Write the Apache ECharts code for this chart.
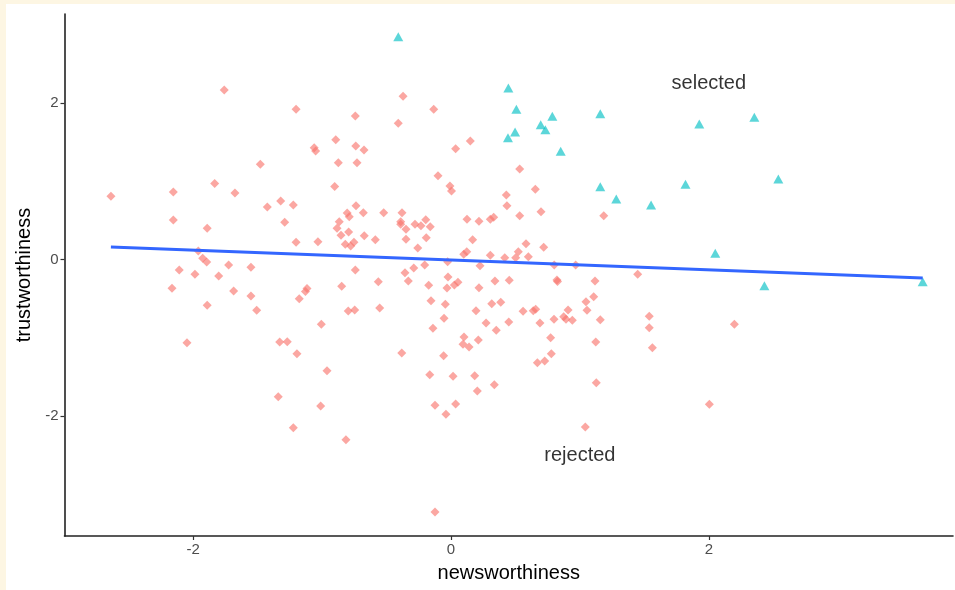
<!DOCTYPE html>
<html>
<head>
<meta charset="utf-8">
<script src="https://cdn.jsdelivr.net/npm/echarts@6/dist/echarts.min.js"></script>
<style>
html, body { margin: 0; padding: 0; background: #fdf6e3; }
#chart { position: absolute; left: 6px; top: 4px; width: 949px; height: 586px; background: #fff; }
</style>
</head>
<body>
<div id="chart"></div>
<script>
// rejected stories (red diamonds)
const rejectedX = [
  -1.759, -1.202, -0.742, -0.894, -1.061, -1.050, -0.739, -1.479, -0.874, -0.729,
  -1.833, -0.902, -2.154, -1.676, -2.638, -1.425, -1.321, -1.223, -0.737, -0.805,
  -0.789, -2.154, -1.891, -1.290, -0.867, -0.884, -0.794, -0.853, -1.202, -1.032,
  -0.820, -0.778, -0.753, -1.960, -1.926, -1.895, -2.108, -1.986, -1.802, -1.725,
  -1.552, -0.742, -2.164, -1.686, -1.552, -1.117, -1.129, -1.177, -0.848, -1.891,
  -1.507, -0.797, -0.747, -1.006, -2.048, -1.329, -1.270, -1.195, -0.962, -1.340,
  -1.011, -1.223, -0.815, -0.372, -0.134, -0.409, -0.675, 0.150, 0.036, 0.533,
  -0.101, -0.008, 0.004, 0.654, -0.680, -0.522, -0.380, 0.429, 0.434, 0.698,
  0.533, 1.185, -0.390, -0.390, -0.349, -0.279, -0.233, -0.196, -0.161, 0.124,
  0.217, 0.305, 0.331, -0.673, -0.587, -0.349, -0.192, 0.168, -0.258, 0.582,
  0.719, 0.522, 0.122, 0.099, 0.305, 0.417, 0.502, 0.600, -0.026, -0.204,
  -0.289, -0.357, 0.225, 0.801, 0.967, 1.448, -0.564, -0.331, -0.023, -0.173,
  -0.031, 0.026, 0.054, 0.217, 0.341, 0.452, 0.822, 0.826, 1.117, 1.107,
  1.047, 1.055, 1.158, -0.155, -0.044, 0.316, 0.386, -0.553, 0.194, 0.559,
  0.638, 0.657, 0.908, 0.874, 0.892, 0.941, 0.799, -0.054, 0.272, 0.448,
  0.690, -0.140, 0.351, 1.538, 1.538, 0.773, 0.101, 0.093, 0.140, 0.212,
  1.123, 1.562, -0.382, -0.057, 0.778, 0.670, 0.727, -0.165, 0.016, 0.184,
  0.336, 0.204, -0.124, 0.036, -0.039, 1.127, 1.042, -0.124, 2.198, 2.004
];
const rejectedY = [
  2.163, 1.917, 1.831, 1.529, 1.427, 1.384, 1.448, 1.215, 1.235, 1.235,
  0.969, 0.931, 0.861, 0.848, 0.806, 0.669, 0.746, 0.695, 0.686, 0.593,
  0.545, 0.503, 0.397, 0.474, 0.481, 0.397, 0.350, 0.308, 0.218, 0.226,
  0.193, 0.171, 0.218, 0.107, 0.014, -0.033, -0.135, -0.190, -0.212, -0.072,
  -0.101, -0.135, -0.369, -0.404, -0.467, -0.372, -0.410, -0.502, -0.344, -0.586,
  -0.650, -0.659, -0.646, -0.829, -1.064, -1.055, -1.051, -1.204, -1.421, -1.753,
  -1.872, -2.149, -2.303, 2.083, 1.917, 1.738, 1.397, 1.512, 1.414, 1.155,
  1.069, 0.937, 0.874, 0.895, 0.596, 0.596, 0.596, 0.822, 0.686, 0.609,
  0.558, 0.558, 0.481, 0.448, 0.384, 0.448, 0.430, 0.507, 0.418, 0.512,
  0.487, 0.512, 0.538, 0.303, 0.252, 0.257, 0.277, 0.252, 0.146, 0.201,
  0.155, 0.098, 0.098, 0.065, 0.052, 0.022, 0.022, 0.034, -0.029, -0.072,
  -0.110, -0.170, -0.080, -0.072, -0.072, -0.190, -0.285, -0.276, -0.225, -0.331,
  -0.365, -0.327, -0.292, -0.361, -0.276, -0.267, -0.263, -0.282, -0.276, -0.476,
  -0.540, -0.650, -0.770, -0.527, -0.573, -0.566, -0.548, -0.621, -0.655, -0.663,
  -0.655, -0.637, -0.646, -0.732, -0.765, -0.778, -0.765, -0.752, -0.812, -0.799,
  -0.812, -0.880, -0.905, -0.727, -0.872, -1.000, -0.991, -1.084, -1.119, -1.029,
  -1.055, -1.128, -1.195, -1.230, -1.204, -1.319, -1.298, -1.472, -1.493, -1.485,
  -1.600, -1.681, -1.863, -1.847, -1.978, -1.575, -2.140, -3.226, -0.829, -1.851
];
// selected stories (cyan triangles)
const selectedX = [
  -0.409, 0.445, 0.507, 0.786, 1.158, 0.696, 0.732, 0.497, 0.442, 0.851,
  1.158, 1.282, 1.552, 1.819, 1.926, 2.353, 2.539, 2.050, 2.431, 3.659
];
const selectedY = [
  2.844, 2.189, 1.917, 1.828, 1.861, 1.720, 1.656, 1.627, 1.554, 1.381,
  0.928, 0.771, 0.695, 0.959, 1.729, 1.815, 1.027, 0.078, -0.336, -0.285
];
// fitted line ends
const fitX = [-2.638, 3.659];
const fitY = [0.158, -0.238];
// text labels
const noteText = ['selected', 'rejected'];
const noteX = [2.0, 1.0];
const noteY = [2.25, -2.5];
const tickValues = [-2, 0, 2];

const zip = (xs, ys) => xs.map((x, i) => [x, ys[i]]);
const font = '"Liberation Sans", Arial, sans-serif';

const chart = echarts.init(document.getElementById('chart'));
chart.setOption({
  animation: false,
  grid: { left: 58.5, top: 10, right: 2, bottom: 54, containLabel: false, outerBoundsMode: 'none' },
  xAxis: {
    type: 'value', min: -2.998, max: 3.894,
    name: 'newsworthiness', nameLocation: 'middle', nameGap: 27,
    nameTextStyle: { color: '#000', fontSize: 20, fontFamily: font },
    axisLine: { onZero: false, lineStyle: { color: '#222', width: 1.6 } },
    axisTick: { customValues: tickValues, length: 4, lineStyle: { color: '#333', width: 1.2 } },
    axisLabel: { customValues: tickValues, color: '#4d4d4d', fontSize: 15, margin: 6, fontFamily: font },
    splitLine: { show: false }
  },
  yAxis: {
    type: 'value', min: -3.533, max: 3.134,
    name: 'trustworthiness', nameLocation: 'middle', nameGap: 30,
    nameTextStyle: { color: '#000', fontSize: 20, fontFamily: font },
    axisLine: { show: true, onZero: false, lineStyle: { color: '#222', width: 1.6 } },
    axisTick: { show: true, customValues: tickValues, length: 4, lineStyle: { color: '#333', width: 1.2 } },
    axisLabel: { customValues: tickValues, color: '#4d4d4d', fontSize: 15, margin: 6, fontFamily: font },
    splitLine: { show: false }
  },
  series: [
    {
      type: 'scatter', data: zip(rejectedX, rejectedY),
      symbol: 'diamond', symbolSize: 9,
      itemStyle: { color: 'rgba(248,118,109,0.8)' }
    },
    {
      type: 'scatter', data: zip(selectedX, selectedY),
      symbol: 'triangle', symbolSize: [10, 9],
      itemStyle: { color: 'rgba(0,191,196,0.8)' }
    },
    {
      type: 'line', data: zip(fitX, fitY), symbol: 'none', z: 5,
      lineStyle: { color: '#3366ff', width: 3 }
    },
    {
      type: 'scatter', symbolSize: 0, silent: true,
      data: noteText.map((t, i) => ({ value: [noteX[i], noteY[i]], name: t })),
      label: { show: true, position: 'inside', formatter: '{b}', color: '#000', fontSize: 20, fontFamily: font }
    }
  ]
});
</script>
</body>
</html>
